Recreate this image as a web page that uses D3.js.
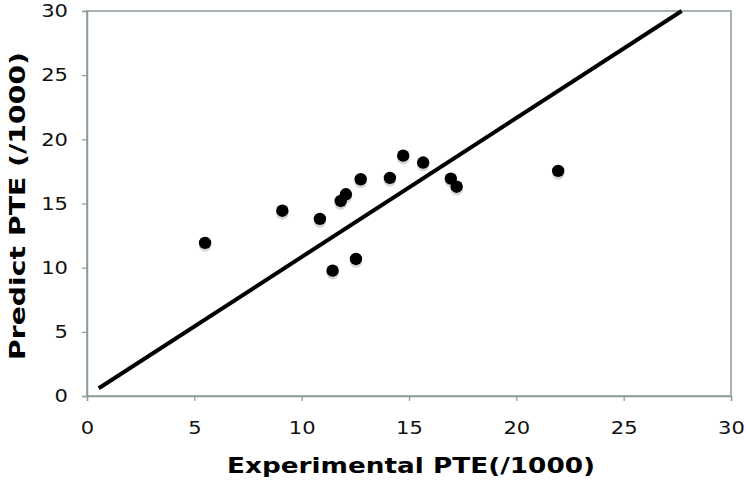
<!DOCTYPE html>
<html><head><meta charset="utf-8">
<script src="https://cdn.jsdelivr.net/npm/d3@7"></script>
<style>body{margin:0;background:#fff}svg{display:block}</style>
</head><body>
<script>
const expX = [5.5, 9.1, 10.85, 11.44, 11.82, 12.06, 12.53, 12.75, 14.11, 14.73, 15.66, 16.95, 17.22, 21.95];
const predY = [11.93, 14.44, 13.8, 9.77, 15.2, 15.72, 10.68, 16.89, 17.0, 18.73, 18.19, 16.94, 16.31, 17.54];
const lineX = [0.55, 27.7];
const lineY = [0.6, 30];
const xTicks = [0, 5, 10, 15, 20, 25, 30];
const yTicks = [0, 5, 10, 15, 20, 25, 30];
const xTitle = "Experimental PTE(/1000)";
const yTitle = "Predict PTE (/1000)";

const W = 746, H = 485;
const m = {left: 87, right: 731, top: 11, bottom: 396};
const svg = d3.select("body").append("svg").attr("width", W).attr("height", H);
const x = d3.scaleLinear().domain([0, 30]).range([m.left, m.right]);
const y = d3.scaleLinear().domain([0, 30]).range([m.bottom, m.top]);
const axisColor = "#8a9b9b";
const font = "'DejaVu Sans', Verdana, sans-serif";

svg.append("rect").attr("x", m.left).attr("y", m.top)
  .attr("width", m.right - m.left).attr("height", m.bottom - m.top)
  .attr("fill", "none").attr("stroke", axisColor).attr("stroke-width", 1.5);

const xa = svg.append("g").attr("transform", `translate(0,${m.bottom})`)
  .call(d3.axisBottom(x).tickValues(xTicks).tickSize(5).tickPadding(20).tickFormat(d3.format("d")));
const ya = svg.append("g").attr("transform", `translate(${m.left},0)`)
  .call(d3.axisLeft(y).tickValues(yTicks).tickSize(5).tickPadding(14).tickFormat(d3.format("d")));
[xa, ya].forEach(g => {
  g.select(".domain").attr("stroke", axisColor).attr("stroke-width", 1.5);
  g.selectAll(".tick line").attr("stroke", axisColor).attr("stroke-width", 1.2);
  g.selectAll(".tick text").attr("fill", "#111").attr("font-family", font).attr("font-size", 18)
    .each(function() {
      const L = this.getComputedTextLength();
      d3.select(this).attr("textLength", L * 1.17).attr("lengthAdjust", "spacingAndGlyphs");
    });
});
xa.selectAll(".tick text").attr("dy", "0.71em");

svg.append("line")
  .attr("x1", x(lineX[0])).attr("y1", y(lineY[0]))
  .attr("x2", x(lineX[1])).attr("y2", y(lineY[1]))
  .attr("stroke", "#000").attr("stroke-width", 4);

const pts = expX.map((v, i) => ({x: v, y: predY[i]}));
svg.append("g").selectAll("circle").data(pts).join("circle")
  .attr("cx", d => x(d.x)).attr("cy", d => y(d.y) + 2.5).attr("r", 6.3)
  .attr("fill", "#c8cccc").attr("opacity", 0.8);
svg.append("g").selectAll("circle").data(pts).join("circle")
  .attr("cx", d => x(d.x)).attr("cy", d => y(d.y)).attr("r", 6.2)
  .attr("fill", "#000");

svg.append("text").attr("x", 411).attr("y", 473).attr("text-anchor", "middle")
  .attr("font-family", font).attr("font-weight", "bold").attr("font-size", 22)
  .attr("textLength", 368).attr("lengthAdjust", "spacingAndGlyphs")
  .attr("fill", "#000").text(xTitle);
svg.append("text").attr("transform", "translate(25,206) rotate(-90)").attr("text-anchor", "middle")
  .attr("font-family", font).attr("font-weight", "bold").attr("font-size", 22)
  .attr("textLength", 308).attr("lengthAdjust", "spacingAndGlyphs")
  .attr("fill", "#000").text(yTitle);
</script>
</body></html>
